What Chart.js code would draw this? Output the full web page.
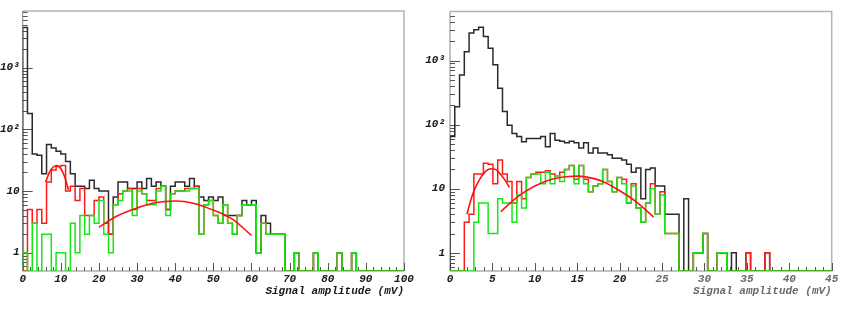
<!DOCTYPE html>
<html>
<head>
<meta charset="utf-8">
<script src="https://cdn.jsdelivr.net/npm/chart.js@4.4.1/dist/chart.umd.min.js"></script>
<style>
  body { margin: 0; background: #fff; width: 848px; height: 313px; overflow: hidden; }
  .panel { position: absolute; top: 0; width: 424px; height: 313px; }
</style>
</head>
<body>
<div class="panel" style="left:0"><canvas id="left" width="424" height="313"></canvas></div>
<div class="panel" style="left:424px"><canvas id="right" width="424" height="313"></canvas></div>
<script>
// left panel: 80 bins of 1.25 mV, right panel: 80 bins of 0.5625 mV
var LEFT_BIN = 1.25
var RIGHT_BIN = 0.5625

var LEFT_BLACK = [
  4500, 180, 40, 38, 19, 57, 50, 44, 40, 30,
  19, 12, 12, 11, 15, 11, 10, 10, 2, 8,
  14, 14, 11, 11, 14, 11, 16, 12, 14, 12,
  5, 12, 14, 14, 12, 16, 12, 8, 7, 8,
  7, 8, 4, 4, 4, 4, 7, 6, 7, 1,
  4, 3, 2, 2, 2, 0, 0, 1, 0, 0,
  0, 1, 0, 0, 0, 0, 1, 0, 0, 1,
  0, 0, 0, 0, 0, 0, 0, 0, 0, 0
]
var LEFT_RED = [
  0, 5, 3, 5, 3, 14, 22, 25, 26, 10,
  12, 7, 11, 4, 4, 7, 8, 3, 2, 6,
  9, 10, 11, 5, 11, 9, 7, 7, 11, 12,
  5, 9, 10, 10, 11, 11, 12, 2, 6, 7,
  4, 3, 6, 3, 2, 4, 6, 6, 6, 1,
  3, 2, 2, 2, 2, 0, 0, 1, 0, 0,
  0, 1, 0, 0, 0, 0, 1, 0, 0, 1,
  0, 0, 0, 0, 0, 0, 0, 0, 0, 0
]
var LEFT_GREEN = [
  1, 0, 3, 0, 2, 2, 0, 1, 1, 0,
  3, 1, 4, 2, 4, 3, 7, 2, 1, 6,
  7, 10, 10, 4, 10, 9, 6, 6, 10, 12,
  4, 9, 10, 10, 10, 11, 11, 2, 6, 7,
  4, 3, 6, 3, 2, 4, 6, 6, 6, 1,
  3, 2, 2, 2, 2, 0, 0, 1, 0, 0,
  0, 1, 0, 0, 0, 0, 1, 0, 0, 1,
  0, 0, 0, 0, 0, 0, 0, 0, 0, 0
]
// fitted curves (mV, counts)
var LEFT_FIT1_X = [6, 7, 8, 9, 10, 11, 12]
var LEFT_FIT1_Y = [14, 20, 24.5, 26, 23, 17, 10.5]
var LEFT_FIT2_X = [20, 25, 30, 35, 40, 45, 50, 55, 60]
var LEFT_FIT2_Y = [2.6, 4.0, 5.3, 6.5, 6.9, 6.3, 4.9, 3.5, 1.9]

var RIGHT_BLACK = [
  65, 190, 595, 1370, 2680, 3020, 3300, 2370, 1560, 860,
  370, 160, 98, 73, 65, 54, 61, 61, 61, 65,
  45, 73, 57, 55, 52, 55, 52, 43, 52, 36,
  43, 36, 36, 34, 30, 30, 28, 24, 18, 21,
  7, 20, 21, 11, 11, 4, 4, 4, 0, 7,
  0, 1, 1, 2, 0, 0, 1, 1, 0, 1,
  0, 0, 1, 0, 0, 0, 1, 0, 0, 0,
  0, 0, 0, 0, 0, 0, 0, 0, 0, 0
]
var RIGHT_RED = [
  0, 0, 0, 3, 4, 17, 17, 25, 24, 12,
  28, 17, 13, 6, 13, 7, 15, 17, 18, 18,
  19, 17, 16, 18, 20, 23, 14, 23, 14, 9,
  11, 12, 20, 13, 9, 15, 14, 6, 12, 5,
  3, 6, 12, 4, 9, 2, 2, 2, 0, 0,
  0, 1, 1, 2, 0, 0, 1, 1, 0, 0,
  0, 0, 1, 0, 0, 0, 1, 0, 0, 0,
  0, 0, 0, 0, 0, 0, 0, 0, 0, 0
]
var RIGHT_GREEN = [
  0, 0, 0, 0, 0, 3, 6, 6, 2, 2,
  7, 6, 6, 3, 8, 5, 15, 17, 17, 12,
  18, 12, 16, 13, 20, 23, 12, 23, 12, 9,
  11, 12, 20, 13, 9, 15, 12, 6, 11, 5,
  3, 6, 10, 4, 8, 2, 2, 2, 0, 0,
  0, 1, 1, 2, 0, 0, 1, 1, 0, 0,
  0, 0, 0, 0, 0, 0, 0, 0, 0, 0,
  0, 0, 0, 0, 0, 0, 0, 0, 0, 0
]
var RIGHT_FIT1_X = [2, 2.5, 3, 3.5, 4, 4.5, 5, 5.5, 6, 6.5, 7]
var RIGHT_FIT1_Y = [4, 7, 10.5, 14, 17.5, 20, 20.5, 19.5, 16.5, 13.5, 10.5]
var RIGHT_FIT2_X = [6, 8, 10, 12, 14, 15, 16, 18, 20, 22, 24]
var RIGHT_FIT2_Y = [4.4, 7.5, 11, 14, 15.5, 15.7, 15.3, 13, 9.3, 6.2, 3.6]

var LEFT_X_TICKS = [0, 10, 20, 30, 40, 50, 60, 70, 80, 90, 100]
var RIGHT_X_TICKS = [0, 5, 10, 15, 20, 25, 30, 35, 40, 45]
var Y_TICKS = [1, 10, 100, 1000]
var Y_TICK_TEXT = ['1', '10', '10²', '10³']
var X_TITLE = 'Signal amplitude (mV)'

var FONT = {family: '"Liberation Mono", "DejaVu Sans Mono", monospace', size: 11, style: 'italic', weight: 'bold'}

// step points for a histogram (value held from left edge), empty bins sit on the frame bottom
function histogram(counts, width, floor) {
  var pts = [{x: 0, y: floor}]
  counts.forEach(function(c, i) {
    pts.push({x: i * width, y: c > 0 ? c : floor})
  })
  pts.push({x: counts.length * width, y: floor})
  return pts
}

function curve(xs, ys) {
  return xs.map(function(x, i) { return {x: x, y: ys[i]} })
}

// ROOT-like frame with ticks pointing inside
var frameTicks = {
  id: 'frameTicks',
  beforeDatasetsDraw: function(chart, args, opts) {
    var ctx = chart.ctx, a = chart.chartArea
    var x = chart.scales.x, y = chart.scales.y
    ctx.save()
    ctx.lineWidth = 1.5
    ctx.strokeStyle = '#b4b4b4'
    ctx.beginPath()
    ctx.moveTo(a.left, a.top)
    ctx.lineTo(a.right, a.top)
    ctx.lineTo(a.right, a.bottom)
    ctx.stroke()
    ctx.lineWidth = 1
    ctx.strokeStyle = '#888'
    ctx.beginPath()
    ctx.moveTo(a.left, a.top)
    ctx.lineTo(a.left, a.bottom)
    ctx.lineTo(a.right, a.bottom)
    ctx.stroke()

    ctx.strokeStyle = '#555'
    ctx.beginPath()
    var n = Math.round((x.max - x.min) / opts.minorX)
    for (var i = 0; i <= n; i++) {
      var v = x.min + i * opts.minorX
      var px = Math.round(x.getPixelForValue(v)) + 0.5
      var major = Math.abs(v / opts.majorX - Math.round(v / opts.majorX)) < 1e-6
      ctx.moveTo(px, a.bottom)
      ctx.lineTo(px, a.bottom - (major ? 8 : 4))
    }
    for (var d = -1; d <= 4; d++) {
      for (var m = 1; m <= 9; m++) {
        var val = m * Math.pow(10, d)
        if (val < y.min || val > y.max) continue
        var py = Math.round(y.getPixelForValue(val)) + 0.5
        ctx.moveTo(a.left, py)
        ctx.lineTo(a.left + (m == 1 ? 10 : 5), py)
      }
    }
    ctx.stroke()
    ctx.restore()
  }
}

function drawPanel(id, p) {
  var floor = p.ymin
  new Chart(document.getElementById(id), {
    type: 'line',
    data: {
      datasets: [{
        data: curve(p.fit1x, p.fit1y), borderColor: '#ff1010', borderWidth: 1.6,
        cubicInterpolationMode: 'monotone', order: 0
      }, {
        data: curve(p.fit2x, p.fit2y), borderColor: '#ff1010', borderWidth: 1.6,
        cubicInterpolationMode: 'monotone', order: 0
      }, {
        data: histogram(p.green, p.bin, floor), borderColor: '#16e616', borderWidth: 1.5,
        stepped: 'before', order: 1
      }, {
        data: histogram(p.red, p.bin, floor), borderColor: '#ff1a1a', borderWidth: 1.5,
        stepped: 'before', order: 2
      }, {
        data: histogram(p.black, p.bin, floor), borderColor: '#2a2a2a', borderWidth: 1.5,
        stepped: 'before', order: 3
      }]
    },
    options: {
      responsive: false,
      animation: false,
      devicePixelRatio: 1,
      layout: {padding: {left: 0, top: 11, right: p.padRight, bottom: 0}},
      elements: {point: {radius: 0}, line: {tension: 0, fill: false}},
      plugins: {
        legend: {display: false},
        tooltip: {enabled: false},
        frameTicks: {majorX: p.majorX, minorX: p.minorX}
      },
      scales: {
        x: {
          type: 'linear', min: 0, max: p.xmax,
          afterBuildTicks: function(s) { s.ticks = p.xticks.map(function(v) { return {value: v} }) },
          afterFit: function(s) { s.height = 42 },
          grid: {display: false, drawTicks: false},
          border: {display: false},
          ticks: {
            autoSkip: false, maxRotation: 0, padding: 2, font: FONT,
            color: function(c) { return c.tick && c.tick.value >= p.greyFrom ? '#6a6a6a' : '#1a1a1a' }
          },
          title: {
            display: true, text: X_TITLE, align: 'end', font: FONT,
            color: p.titleColor, padding: {top: 0, bottom: 15}
          }
        },
        y: {
          type: 'logarithmic', min: p.ymin, max: p.ymax,
          afterBuildTicks: function(s) { s.ticks = Y_TICKS.map(function(v) { return {value: v} }) },
          afterFit: function(s) { s.width = p.yWidth },
          grid: {display: false, drawTicks: false},
          border: {display: false},
          ticks: {
            padding: p.yPad, font: FONT, color: '#1a1a1a',
            callback: function(v) { return Y_TICK_TEXT[Y_TICKS.indexOf(v)] }
          }
        }
      }
    },
    plugins: [frameTicks]
  })
}

drawPanel('left', {
  bin: LEFT_BIN, black: LEFT_BLACK, red: LEFT_RED, green: LEFT_GREEN,
  fit1x: LEFT_FIT1_X, fit1y: LEFT_FIT1_Y, fit2x: LEFT_FIT2_X, fit2y: LEFT_FIT2_Y,
  xmax: 100, xticks: LEFT_X_TICKS, majorX: 10, minorX: 2,
  ymin: 0.505, ymax: 8300, yWidth: 22.7, yPad: 3, padRight: 20,
  greyFrom: 1000, titleColor: '#1a1a1a'
})
drawPanel('right', {
  bin: RIGHT_BIN, black: RIGHT_BLACK, red: RIGHT_RED, green: RIGHT_GREEN,
  fit1x: RIGHT_FIT1_X, fit1y: RIGHT_FIT1_Y, fit2x: RIGHT_FIT2_X, fit2y: RIGHT_FIT2_Y,
  xmax: 45, xticks: RIGHT_X_TICKS, majorX: 5, minorX: 1,
  ymin: 0.52, ymax: 5800, yWidth: 26, yPad: 5, padRight: 16.3,
  greyFrom: 25, titleColor: '#6a6a6a'
})
</script>
</body>
</html>
